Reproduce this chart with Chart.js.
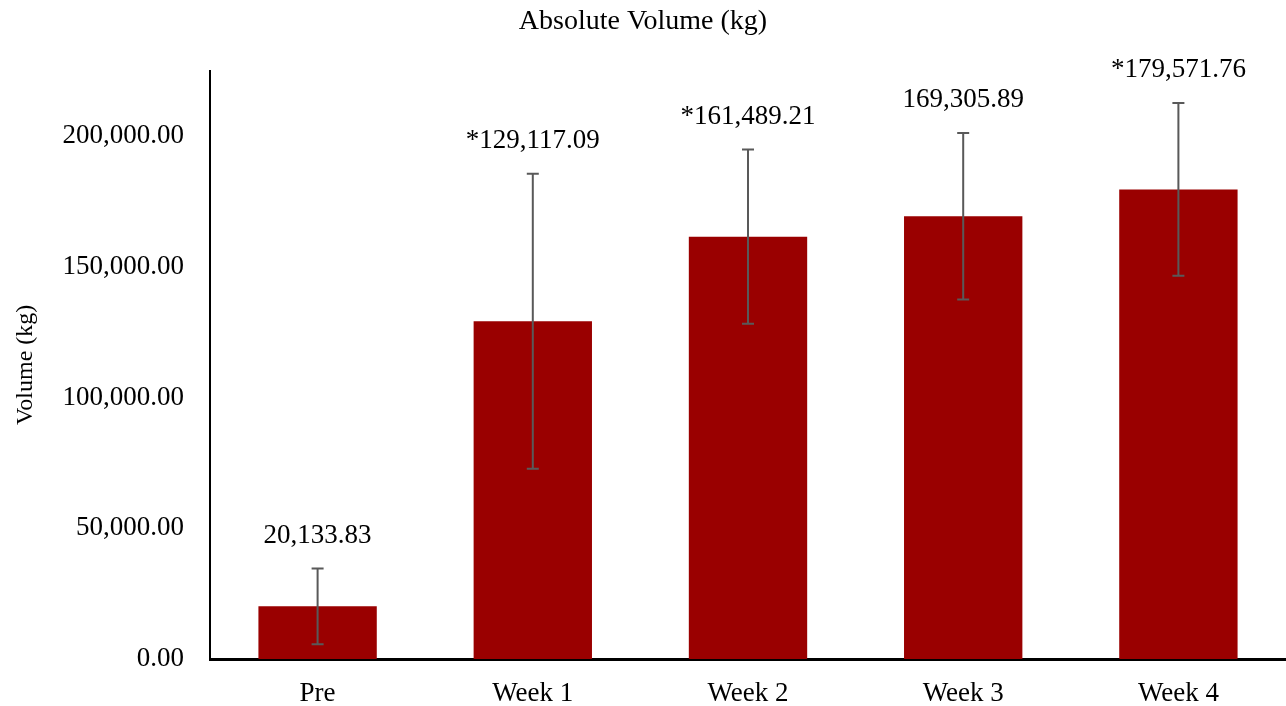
<!DOCTYPE html>
<html lang="en">
<head>
    <meta charset="UTF-8">
    <title>Absolute Volume (kg)</title>
    <script src="https://cdn.jsdelivr.net/npm/chart.js"></script>
    <style>
        html, body { margin: 0; padding: 0; background: #fff; }
        .chartBox { width: 1286px; height: 706px; }
    </style>
</head>
<body>
    <div class="chartBox">
        <canvas id="volumeChart"></canvas>
    </div>
    <script>
        // Data
        var categories = ['Pre', 'Week 1', 'Week 2', 'Week 3', 'Week 4'];
        var meanVolume = [20133.83, 129117.09, 161489.21, 169305.89, 179571.76];
        var sdVolume = [14500, 56400, 33300, 31800, 33000];
        var significant = [false, true, true, false, true];
        var yTicks = [0, 50000, 100000, 150000, 200000];

        var FONT = "'Liberation Serif', 'Times New Roman', serif";

        function fmt(v) {
            return v.toLocaleString('en-US', { minimumFractionDigits: 2, maximumFractionDigits: 2 });
        }

        // draws the SD error bars and the value labels on top of the bars
        var errorBarPlugin = {
            id: 'errorBars',
            afterDatasetsDraw: function (chart) {
                var ctx = chart.ctx;
                var x = chart.scales.x, y = chart.scales.y;
                ctx.save();
                ctx.strokeStyle = '#595959';
                ctx.lineWidth = 2;
                for (var i = 0; i < categories.length; i++) {
                    var cx = x.getPixelForValue(i);
                    var top = y.getPixelForValue(meanVolume[i] + sdVolume[i]);
                    var bot = y.getPixelForValue(meanVolume[i] - sdVolume[i]);
                    ctx.beginPath();
                    ctx.moveTo(cx, top); ctx.lineTo(cx, bot);
                    ctx.moveTo(cx - 6, top); ctx.lineTo(cx + 6, top);
                    ctx.moveTo(cx - 6, bot); ctx.lineTo(cx + 6, bot);
                    ctx.stroke();

                    ctx.fillStyle = '#000';
                    ctx.font = '27px ' + FONT;
                    ctx.textAlign = 'center';
                    ctx.textBaseline = 'middle';
                    ctx.fillText((significant[i] ? '*' : '') + fmt(meanVolume[i]), cx, top - 33);
                }
                ctx.restore();
            }
        };

        var ctx = document.getElementById('volumeChart').getContext('2d');
        var volumeChart = new Chart(ctx, {
            type: 'bar',
            data: {
                labels: categories,
                datasets: [{
                    label: 'Volume',
                    data: meanVolume,
                    backgroundColor: '#9a0000',
                    borderWidth: 0,
                    barPercentage: 0.55,
                    categoryPercentage: 1.0
                }]
            },
            options: {
                responsive: true,
                maintainAspectRatio: false,
                animation: false,
                layout: { padding: { top: 0, right: 0, bottom: 0, left: 0 } },
                plugins: {
                    legend: { display: false },
                    tooltip: { enabled: false },
                    title: {
                        display: true,
                        text: 'Absolute Volume (kg)',
                        color: '#000',
                        font: { family: FONT, size: 28, weight: 'normal' },
                        padding: { top: 5, bottom: 32 }
                    }
                },
                scales: {
                    x: {
                        grid: { display: false, drawTicks: false },
                        border: { display: true, color: '#000', width: 3 },
                        afterFit: function (axis) { axis.height = 47; },
                        ticks: {
                            color: '#000',
                            padding: 19,
                            font: { family: FONT, size: 27 }
                        }
                    },
                    y: {
                        min: 0,
                        max: 225000,
                        grid: { display: false, drawTicks: false },
                        border: { display: true, color: '#000', width: 2 },
                        afterBuildTicks: function (axis) {
                            axis.ticks = yTicks.map(function (v) { return { value: v }; });
                        },
                        afterFit: function (axis) { axis.width = 210; },
                        ticks: {
                            color: '#000',
                            padding: 26,
                            font: { family: FONT, size: 27 },
                            callback: function (v) { return fmt(v); }
                        },
                        title: {
                            display: true,
                            text: 'Volume (kg)',
                            color: '#000',
                            font: { family: FONT, size: 24 },
                            padding: { top: 11, bottom: 0 }
                        }
                    }
                }
            },
            plugins: [errorBarPlugin]
        });
    </script>
</body>
</html>
